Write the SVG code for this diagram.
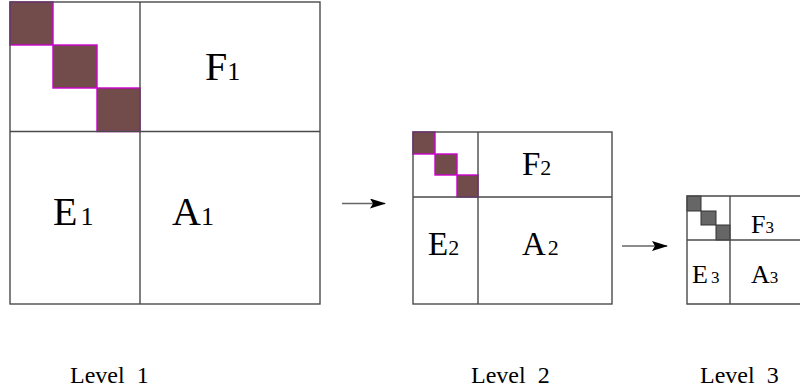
<svg xmlns="http://www.w3.org/2000/svg" width="800" height="391" viewBox="0 0 800 391">
<defs>
<style>
.grid{fill:none;stroke:#4a4a4a;stroke-width:1.4}
.blk{fill:#724b4b;stroke:#cc00cc;stroke-width:1.4}
.blk3{fill:#666;stroke:#333;stroke-width:1}
.t{font-family:"Liberation Serif","Times New Roman",serif;fill:#000}
.conn{stroke:#666;stroke-width:1.5;fill:none}
</style>
<marker id="ah" markerWidth="16" markerHeight="10" refX="15" refY="5" orient="auto" markerUnits="userSpaceOnUse">
<path d="M0,0 L16,5 L0,10 L3,5 Z" fill="#000"/>
</marker>
</defs>
<rect width="800" height="391" fill="#fff"/>
<g id="level1">
<rect class="blk" x="10" y="2" width="43" height="43"/>
<rect class="blk" x="53" y="45" width="44" height="43"/>
<rect class="blk" x="97" y="88" width="43" height="43.5"/>
<rect class="grid" x="10" y="2" width="310" height="302"/>
<line class="grid" x1="140" y1="2" x2="140" y2="304"/>
<line class="grid" x1="10" y1="131.5" x2="320" y2="131.5"/>
<text class="t" x="205" y="80" font-size="40">F<tspan font-size="26">1</tspan></text>
<text class="t" x="53" y="225" font-size="40">E<tspan font-size="26" dx="3">1</tspan></text>
<text class="t" x="172" y="225" font-size="40">A<tspan font-size="26">1</tspan></text>
<text class="t" x="70" y="383" font-size="24" xml:space="preserve">Level  1</text>
</g>
<g id="level2">
<rect class="blk" x="413" y="132" width="22" height="22"/>
<rect class="blk" x="435" y="154" width="22" height="21"/>
<rect class="blk" x="457" y="175" width="21" height="22"/>
<rect class="grid" x="413" y="132" width="199" height="172"/>
<line class="grid" x1="478" y1="132" x2="478" y2="304"/>
<line class="grid" x1="413" y1="197" x2="612" y2="197"/>
<text class="t" x="522" y="175" font-size="33">F<tspan font-size="22">2</tspan></text>
<text class="t" x="428" y="255" font-size="33">E<tspan font-size="22">2</tspan></text>
<text class="t" x="522" y="255" font-size="33">A<tspan font-size="22" dx="2">2</tspan></text>
<text class="t" x="471" y="383" font-size="24" xml:space="preserve">Level  2</text>
</g>
<g id="level3">
<rect class="blk3" x="687" y="196" width="14" height="15"/>
<rect class="blk3" x="701" y="211" width="15" height="14"/>
<rect class="blk3" x="716" y="225" width="14" height="15"/>
<path class="grid" d="M800,196 H687 V304 H800"/>
<line class="grid" x1="730" y1="196" x2="730" y2="304"/>
<line class="grid" x1="687" y1="240" x2="800" y2="240"/>
<text class="t" x="751" y="233" font-size="26">F<tspan font-size="17">3</tspan></text>
<text class="t" x="692" y="283" font-size="26">E<tspan font-size="17" dx="3">3</tspan></text>
<text class="t" x="751" y="283" font-size="26">A<tspan font-size="17">3</tspan></text>
<text class="t" x="700" y="383" font-size="24" xml:space="preserve">Level  3</text>
</g>
<g id="connectors">
<line class="conn" x1="342" y1="203.5" x2="385" y2="203.5" marker-end="url(#ah)"/>
<line class="conn" x1="622" y1="246" x2="667" y2="246" marker-end="url(#ah)"/>
</g>
</svg>
